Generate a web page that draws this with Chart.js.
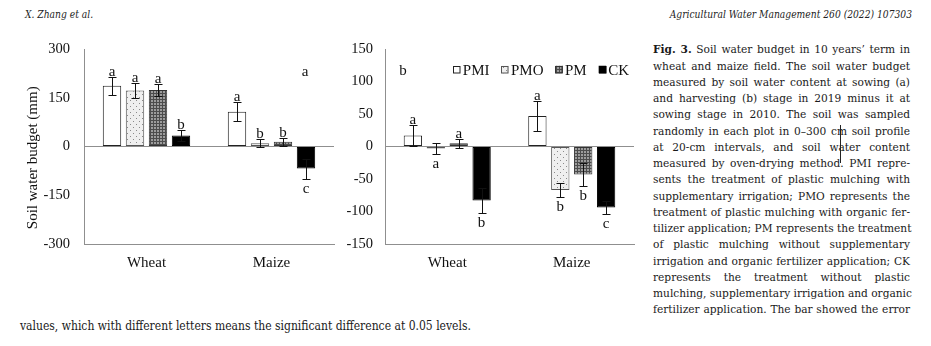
<!DOCTYPE html>
<html><head><meta charset="utf-8">
<script src="https://cdn.jsdelivr.net/npm/chart.js@4.4.0/dist/chart.umd.min.js"></script>
<style>
html,body{margin:0;padding:0;background:#fff;width:931px;height:346px;overflow:hidden;position:relative}
.hdr{position:absolute;top:7px;font-family:"DejaVu Serif Condensed","DejaVu Serif",serif;font-stretch:condensed;font-style:italic;font-size:10.2px;color:#222;white-space:nowrap;line-height:16px}
canvas{position:absolute;top:0}
#c1{left:0}
#c2{left:340px}
.cap{position:absolute;left:653px;width:257px;font-family:"DejaVu Serif Condensed","DejaVu Serif",serif;font-stretch:condensed;font-size:11.8px;line-height:16px;color:#1a1a1a;text-align:justify;text-align-last:justify;white-space:nowrap}
.last{position:absolute;left:20px;top:318px;font-family:"DejaVu Serif Condensed","DejaVu Serif",serif;font-stretch:condensed;font-size:12px;line-height:16px;color:#1a1a1a;white-space:nowrap}
#cursor{position:absolute;left:840px;top:125px;width:1px;height:38px;background:#222}
</style></head>
<body>
<div class="hdr" style="left:25px">X. Zhang et al.</div>
<div class="hdr" style="right:19px">Agricultural Water Management 260 (2022) 107303</div>
<canvas id="c1" width="340" height="290"></canvas>
<canvas id="c2" width="300" height="290"></canvas>
<div id="caption"></div>
<div class="last">values, which with different letters means the significant difference at 0.05 levels.</div>
<div id="cursor"></div>
<script>
// ---------- data ----------
const categories = ['Wheat', 'Maize'];
const seriesNames = ['PMI', 'PMO', 'PM', 'CK'];

// panel (a): sowing stage
const a_PMI = [187, 107];
const a_PMO = [172, 10];
const a_PM  = [174, 15];
const a_CK  = [34, -68];
const a_errPMI = [28, 30];
const a_errPMO = [23, 12];
const a_errPM  = [18, 12];
const a_errCK  = [16, 31];
const a_letPMI = ['a', 'a'];
const a_letPMO = ['a', 'b'];
const a_letPM  = ['a', 'b'];
const a_letCK  = ['b', 'c'];
const a_ticks = [-300, -150, 0, 150, 300];

// panel (b): harvesting stage
const b_PMI = [17, 47];
const b_PMO = [-3, -67];
const b_PM  = [5, -43];
const b_CK  = [-83, -94];
const b_errPMI = [16, 23];
const b_errPMO = [8, 11];
const b_errPM  = [7, 18];
const b_errCK  = [19, 10];
const b_letPMI = ['a', 'a'];
const b_letPMO = ['a', 'b'];
const b_letPM  = ['a', 'b'];
const b_letCK  = ['b', 'c'];
const b_ticks = [-150, -100, -50, 0, 50, 100, 150];

const captionLines = [
  '<b>Fig. 3.</b> Soil water budget in 10 years’ term in',
  'wheat and maize field. The soil water budget',
  'measured by soil water content at sowing (a)',
  'and harvesting (b) stage in 2019 minus it at',
  'sowing stage in 2010. The soil was sampled',
  'randomly in each plot in 0–300 cm soil profile',
  'at 20-cm intervals, and soil water content',
  'measured by oven-drying method. PMI repre-',
  'sents the treatment of plastic mulching with',
  'supplementary irrigation; PMO represents the',
  'treatment of plastic mulching with organic fer-',
  'tilizer application; PM represents the treatment',
  'of plastic mulching without supplementary',
  'irrigation and organic fertilizer application; CK',
  'represents the treatment without plastic',
  'mulching, supplementary irrigation and organic',
  'fertilizer application. The bar showed the error'
];

// ---------- caption ----------
const capDiv = document.getElementById('caption');
captionLines.forEach((t, i) => {
  const d = document.createElement('div');
  d.className = 'cap';
  d.style.top = (49.3 + 16.25 * i - 8) + 'px';
  d.innerHTML = t;
  capDiv.appendChild(d);
});

// ---------- styles ----------
const FONT = '"Liberation Serif", "Times New Roman", serif';
const TXT = '#111';
const AXIS = '#8f8f8f';

function makePattern(kind) {
  const c = document.createElement('canvas');
  const g = c.getContext('2d');
  if (kind === 'dots') {
    c.width = 6; c.height = 6;
    g.fillStyle = '#efefef'; g.fillRect(0, 0, 6, 6);
    g.fillStyle = '#8a8a8a'; g.fillRect(1, 1, 1, 1); g.fillRect(4, 4, 1, 1);
  } else {
    c.width = 3; c.height = 3;
    g.fillStyle = '#9c9c9c'; g.fillRect(0, 0, 3, 3);
    g.fillStyle = '#4c4c4c'; g.fillRect(0, 0, 3, 1); g.fillRect(0, 0, 1, 3);
  }
  return g.createPattern(c, 'repeat');
}
const fills = ['#ffffff', makePattern('dots'), makePattern('grid'), '#000000'];
const borders = ['#222222', '#555555', '#333333', '#000000'];

function buildDatasets(vals, errs, lets) {
  return seriesNames.map((name, k) => ({
    label: name,
    data: vals[k],
    errors: errs[k],
    letters: lets[k],
    backgroundColor: fills[k],
    borderColor: borders[k],
    borderWidth: 1,
    borderSkipped: false,
    barPercentage: 0.8,
    categoryPercentage: 0.736
  }));
}

// error bars + significance letters
const errPlugin = {
  id: 'errs',
  afterDatasetsDraw(chart) {
    const ctx = chart.ctx, ys = chart.scales.y;
    ctx.save();
    ctx.strokeStyle = '#111'; ctx.lineWidth = 1;
    ctx.fillStyle = TXT;
    ctx.font = '15px ' + FONT;
    ctx.textAlign = 'center'; ctx.textBaseline = 'alphabetic';
    chart.data.datasets.forEach((d, di) => {
      const meta = chart.getDatasetMeta(di);
      meta.data.forEach((bar, i) => {
        const v = d.data[i], e = d.errors[i];
        const x = Math.round(bar.x) + 0.5;
        const yt = Math.round(ys.getPixelForValue(v + e)) + 0.5;
        const yb = Math.round(ys.getPixelForValue(v - e)) + 0.5;
        ctx.beginPath();
        ctx.moveTo(x, yt); ctx.lineTo(x, yb);
        ctx.moveTo(x - 4, yt); ctx.lineTo(x + 4, yt);
        ctx.moveTo(x - 4, yb); ctx.lineTo(x + 4, yb);
        ctx.stroke();
        if (v >= 0) ctx.fillText(d.letters[i], bar.x, yt - 2);
        else ctx.fillText(d.letters[i], bar.x, yb + 13);
      });
    });
    ctx.restore();
  }
};

// panel letter + optional legend
const decoPlugin = {
  id: 'deco',
  afterDraw(chart, args, opts) {
    const ctx = chart.ctx, ca = chart.chartArea;
    ctx.save();
    ctx.fillStyle = TXT;
    ctx.font = '15px ' + FONT;
    ctx.textAlign = 'center'; ctx.textBaseline = 'alphabetic';
    const px = opts.fromRight ? ca.right - opts.dx : ca.left + opts.dx;
    ctx.fillText(opts.panel, px, opts.y);
    if (opts.legend) {
      const box = 7.5, gapBox = 2, gapItem = 12;
      ctx.textAlign = 'left';
      const items = chart.data.datasets.map(d => ({
        label: d.label, fill: d.backgroundColor, stroke: d.borderColor,
        w: box + gapBox + ctx.measureText(d.label).width
      }));
      const total = items.reduce((s, it) => s + it.w, 0) + gapItem * (items.length - 1);
      let x = ca.right - 5 - total;
      const yc = 69.5;
      items.forEach(it => {
        ctx.fillStyle = it.fill;
        ctx.fillRect(x, yc - box / 2, box, box);
        ctx.strokeStyle = it.stroke; ctx.lineWidth = 1;
        ctx.strokeRect(Math.round(x) + 0.5, Math.round(yc - box / 2) + 0.5, box - 1, box - 1);
        ctx.fillStyle = TXT;
        ctx.fillText(it.label, x + box + gapBox, yc + 5);
        x += it.w + gapItem;
      });
    }
    ctx.restore();
  }
};

function makeChart(id, vals, errs, lets, ticksArr, yWidth, tickPad, title, deco) {
  const yOpts = {
    min: ticksArr[0], max: ticksArr[ticksArr.length - 1],
    afterBuildTicks(s) { s.ticks = ticksArr.map(v => ({ value: v })); },
    grid: { drawTicks: false, color: c => (c.tick && c.tick.value === 0) ? AXIS : 'rgba(0,0,0,0)', lineWidth: 1 },
    border: { display: true, color: AXIS, width: 1 },
    ticks: { font: { family: FONT, size: 14.5 }, color: TXT, padding: tickPad },
    afterFit(s) { s.width = yWidth; }
  };
  if (title) {
    yOpts.title = { display: true, text: title, font: { family: FONT, size: 15 }, color: TXT, padding: { top: 24, bottom: 0 } };
  }
  return new Chart(document.getElementById(id), {
    type: 'bar',
    data: { labels: categories, datasets: buildDatasets(vals, errs, lets) },
    options: {
      responsive: false, animation: false, devicePixelRatio: 1,
      layout: { padding: { top: 49, right: 6, left: 0, bottom: 0 } },
      plugins: { legend: { display: false }, tooltip: { enabled: false }, deco: deco },
      scales: {
        x: {
          grid: { display: false, drawTicks: false },
          border: { display: true, color: AXIS, width: 1 },
          ticks: { font: { family: FONT, size: 15 }, color: TXT, padding: 10 },
          afterFit(s) { s.height = 46; }
        },
        y: yOpts
      }
    },
    plugins: [errPlugin, decoPlugin]
  });
}

makeChart('c1',
  [a_PMI, a_PMO, a_PM, a_CK], [a_errPMI, a_errPMO, a_errPM, a_errCK], [a_letPMI, a_letPMO, a_letPM, a_letCK],
  a_ticks, 84, 14, 'Soil water budget (mm)\u00a0\u00a0\u00a0\u00a0\u00a0\u00a0',
  { panel: 'a', fromRight: true, dx: 29, y: 76, legend: false });

makeChart('c2',
  [b_PMI, b_PMO, b_PM, b_CK], [b_errPMI, b_errPMO, b_errPM, b_errCK], [b_letPMI, b_letPMO, b_letPM, b_letCK],
  b_ticks, 45, 12, null,
  { panel: 'b', fromRight: false, dx: 18, y: 75, legend: true });
</script>
</body></html>
